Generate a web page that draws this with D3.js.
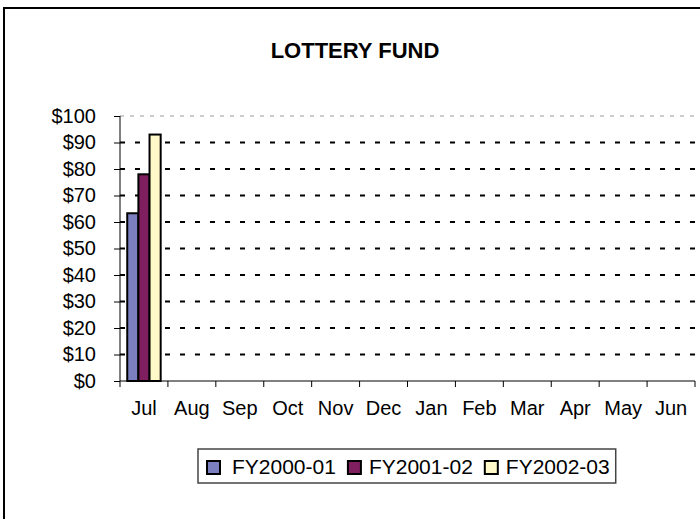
<!DOCTYPE html>
<html>
<head>
<meta charset="utf-8">
<script src="https://cdn.jsdelivr.net/npm/d3@7"></script>
<style>
  body { margin: 0; background: #fff; }
  svg text { font-family: "Liberation Sans", Arial, sans-serif; }
</style>
</head>
<body>
<div id="chart"></div>
<script>
// data
var months = ["Jul", "Aug", "Sep", "Oct", "Nov", "Dec", "Jan", "Feb", "Mar", "Apr", "May", "Jun"];
var seriesNames = ["FY2000-01", "FY2001-02", "FY2002-03"];
var fy0001 = [63.3, null, null, null, null, null, null, null, null, null, null, null];
var fy0102 = [78, null, null, null, null, null, null, null, null, null, null, null];
var fy0203 = [93, null, null, null, null, null, null, null, null, null, null, null];
var yTicks = [0, 10, 20, 30, 40, 50, 60, 70, 80, 90, 100];

var seriesValues = [fy0001, fy0102, fy0203];
var colors = ["#7b7fc0", "#801f60", "#fff8c8"];

var width = 700, height = 519;
var plot = {left: 120, right: 695, top: 116, bottom: 381};
var labelFont = "20px";

var svg = d3.select("#chart")
    .append("svg")
    .attr("width", width)
    .attr("height", height);

// outer chart frame (runs off the right and bottom edges)
svg.append("rect")
    .attr("x", 4)
    .attr("y", 8)
    .attr("width", width + 20)
    .attr("height", height + 20)
    .attr("fill", "#fff")
    .attr("stroke", "#000")
    .attr("stroke-width", 2);

svg.append("text")
    .attr("x", 355)
    .attr("y", 58)
    .attr("text-anchor", "middle")
    .style("font-size", "22px")
    .style("font-weight", "bold")
    .text("LOTTERY FUND");

var x0 = d3.scaleBand()
    .domain(months)
    .range([plot.left, plot.right])
    .paddingInner(0)
    .paddingOuter(0);

var x1 = d3.scaleBand()
    .domain(seriesNames)
    .range([0, x0.bandwidth()])
    .paddingInner(0)
    .paddingOuter(0.65);

var y = d3.scaleLinear()
    .domain([0, 100])
    .range([plot.bottom, plot.top]);

// gridlines
svg.append("g")
    .selectAll("line")
    .data(yTicks.filter(function (d) { return d > 0; }))
    .enter()
    .append("line")
    .attr("x1", plot.left)
    .attr("x2", plot.right)
    .attr("y1", function (d) { return y(d); })
    .attr("y2", function (d) { return y(d); })
    .attr("stroke", function (d) { return d === 100 ? "#9a9a9a" : "#000"; })
    .attr("stroke-width", function (d) { return d === 100 ? 1 : 2; })
    .attr("stroke-dasharray", function (d) { return d === 100 ? "4,6" : "5,10"; });

// bars
var bars = [];
seriesValues.forEach(function (vals, s) {
    vals.forEach(function (v, i) {
        if (v !== null) bars.push({month: months[i], series: seriesNames[s], value: v, color: colors[s]});
    });
});

svg.append("g")
    .selectAll("rect")
    .data(bars)
    .enter()
    .append("rect")
    .attr("x", function (d) { return x0(d.month) + x1(d.series); })
    .attr("y", function (d) { return y(d.value); })
    .attr("width", x1.bandwidth())
    .attr("height", function (d) { return y(0) - y(d.value); })
    .attr("fill", function (d) { return d.color; })
    .attr("stroke", "#000")
    .attr("stroke-width", 2);

// y axis
var yAxis = svg.append("g")
    .attr("transform", "translate(" + plot.left + ",0)")
    .call(d3.axisLeft(y).tickValues(yTicks).tickSize(6).tickPadding(18)
        .tickFormat(function (d) { return "$" + d; }));
yAxis.select(".domain").attr("stroke", "#000").attr("d", "M0," + plot.top + "V" + plot.bottom);
yAxis.selectAll("text").style("font-size", labelFont).style("font-family", "'Liberation Sans', Arial, sans-serif").attr("fill", "#000");

// x axis
var xAxis = svg.append("g")
    .attr("transform", "translate(0," + plot.bottom + ")")
    .call(d3.axisBottom(x0).tickSize(0).tickPadding(20));
xAxis.select(".domain").attr("stroke", "#000").attr("d", "M" + plot.left + ",0H" + plot.right);
xAxis.selectAll("text").style("font-size", labelFont).style("font-family", "'Liberation Sans', Arial, sans-serif").attr("fill", "#000");

xAxis.selectAll(".sep")
    .data(months.concat(["end"]))
    .enter()
    .append("line")
    .attr("x1", function (d, i) { return i < months.length ? x0(d) : plot.right; })
    .attr("x2", function (d, i) { return i < months.length ? x0(d) : plot.right; })
    .attr("y1", 0)
    .attr("y2", 6)
    .attr("stroke", "#000");

// legend: laid out from the measured text widths
var legend = svg.append("g");
var box = legend.append("rect")
    .attr("x", 198)
    .attr("y", 449)
    .attr("height", 34)
    .attr("fill", "#fff")
    .attr("stroke", "#444")
    .attr("stroke-width", 1.5);

var cx = 207;
seriesNames.forEach(function (name, i) {
    legend.append("rect")
        .attr("x", cx)
        .attr("y", 461)
        .attr("width", 13)
        .attr("height", 13)
        .attr("fill", colors[i])
        .attr("stroke", "#000")
        .attr("stroke-width", 2);
    var gap = i === 0 ? 25 : 21;
    var t = legend.append("text")
        .attr("x", cx + gap)
        .attr("y", 474)
        .style("font-size", "21px")
        .text(name);
    cx = cx + gap + t.node().getComputedTextLength() + 12;
});
box.attr("width", cx - 198 - 6);
</script>
</body>
</html>
